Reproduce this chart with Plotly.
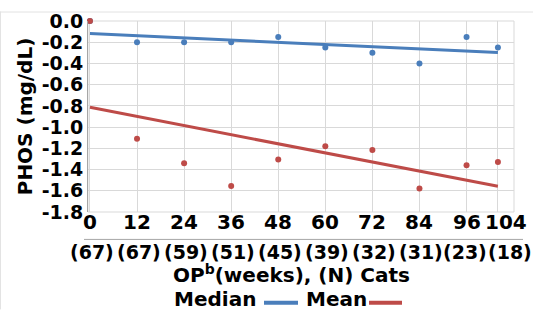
import numpy as np
import plotly.graph_objects as go

weeks = [0, 12, 24, 36, 48, 60, 72, 84, 96, 104]
n_cats = [67, 67, 59, 51, 45, 39, 32, 31, 23, 18]
median_vals = [0.0, -0.20, -0.20, -0.20, -0.15, -0.25, -0.30, -0.40, -0.15, -0.25]
mean_vals = [0.0, -1.11, -1.34, -1.555, -1.305, -1.18, -1.215, -1.58, -1.36, -1.33]
y_ticks = [0.0, -0.2, -0.4, -0.6, -0.8, -1.0, -1.2, -1.4, -1.6, -1.8]

BLUE = "#4a7ebb"
RED = "#be4b48"
FONT = "DejaVu Sans"
FS = 20

x = np.array(weeks, dtype=float)
fit_med = np.polyfit(x, np.array(median_vals), 1)
fit_mean = np.polyfit(x, np.array(mean_vals), 1)
xl = np.array([weeks[0], weeks[-1]], dtype=float)

fig = go.Figure()
fig.add_trace(go.Scatter(x=xl, y=np.polyval(fit_med, xl), mode="lines",
                         line=dict(color=BLUE, width=3), name="Median", showlegend=False,
                         cliponaxis=False))
fig.add_trace(go.Scatter(x=xl, y=np.polyval(fit_mean, xl), mode="lines",
                         line=dict(color=RED, width=3), name="Mean", showlegend=False,
                         cliponaxis=False))
fig.add_trace(go.Scatter(x=weeks, y=median_vals, mode="markers",
                         marker=dict(color=BLUE, size=6), showlegend=False, cliponaxis=False))
fig.add_trace(go.Scatter(x=weeks, y=mean_vals, mode="markers",
                         marker=dict(color=RED, size=6), showlegend=False, cliponaxis=False))

L, R, T, B = 88, 19, 10, 119
W, H = 533, 331
pw, ph = W - L - R, H - T - B

def px_x(p):
    return (p - L) / pw

def px_y(p):
    return (H - B - p) / ph

bold = dict(family=FONT, size=FS, color="black", weight="bold")
bold_n = dict(family=FONT, size=19, color="black", weight="bold")
bold_y = dict(family=FONT, size=19, color="black", weight="bold")

annotations = []
last = len(weeks) - 1
for i, (wk, n) in enumerate(zip(weeks, n_cats)):
    shift_top = 8 if i == last else 0
    if i == last:
        shift_bot = 12
    elif i == last - 1:
        shift_bot = -2
    else:
        shift_bot = 2
    annotations.append(dict(x=wk, y=px_y(223), xref="x", yref="paper", text=str(wk),
                            showarrow=False, xanchor="center", yanchor="middle",
                            xshift=shift_top, font=bold))
    annotations.append(dict(x=wk, y=px_y(254), xref="x", yref="paper", text=f"({n})",
                            showarrow=False, xanchor="center", yanchor="middle",
                            xshift=shift_bot, font=bold_n))
annotations.append(dict(x=px_x(291), y=px_y(278), xref="paper", yref="paper",
                        text="OP<sup>b</sup>(weeks), (N) Cats", showarrow=False,
                        xanchor="center", yanchor="middle", font=bold))
annotations.append(dict(x=px_x(258), y=px_y(304), xref="paper", yref="paper",
                        text="Median", showarrow=False, xanchor="right", yanchor="middle",
                        font=bold))
annotations.append(dict(x=px_x(369), y=px_y(304), xref="paper", yref="paper",
                        text="Mean", showarrow=False, xanchor="right", yanchor="middle",
                        font=bold))

shapes = [
    dict(type="line", xref="paper", yref="paper", x0=px_x(0.5), x1=px_x(0.5), y0=px_y(315), y1=px_y(0),
         line=dict(color="#e3e3e3", width=1), layer="below"),
    dict(type="line", xref="paper", yref="paper", x0=px_x(0), x1=px_x(533), y0=px_y(0.5), y1=px_y(0.5),
         line=dict(color="#e3e3e3", width=1), layer="below"),
    dict(type="rect", xref="paper", yref="paper", x0=0, x1=1, y0=0, y1=1,
         line=dict(color="#d9d9d9", width=1), layer="below"),
    dict(type="line", xref="paper", yref="paper", x0=px_x(84), x1=px_x(523), y0=px_y(241), y1=px_y(241),
         line=dict(color="#a6a6a6", width=1)),
    dict(type="line", xref="paper", yref="paper", x0=px_x(264), x1=px_x(298), y0=px_y(308), y1=px_y(308),
         line=dict(color=BLUE, width=4)),
    dict(type="line", xref="paper", yref="paper", x0=px_x(369), x1=px_x(402), y0=px_y(308), y1=px_y(308),
         line=dict(color=RED, width=4)),
]

fig.update_layout(
    width=W, height=H,
    margin=dict(l=L, r=R, t=T, b=B),
    paper_bgcolor="white", plot_bgcolor="white",
    showlegend=False,
    annotations=annotations,
    shapes=shapes,
    xaxis=dict(range=[-0.5, 108.1], tickmode="array", tickvals=weeks,
               showgrid=True, gridcolor="#d9d9d9", gridwidth=1, zeroline=False, showline=False,
               ticks="", showticklabels=False),
    yaxis=dict(range=[-1.8005, 0.0005], tickmode="array", tickvals=y_ticks,
               ticktext=[f"{v:.1f}" for v in y_ticks], ticklabeloverflow="allow",
               showgrid=True, gridcolor="#d9d9d9", gridwidth=1, zeroline=False,
               showline=True, linecolor="#a6a6a6", linewidth=1, ticks="",
               tickfont=bold_y, ticklabelstandoff=0,
               title=dict(text="PHOS (mg/dL)", standoff=3,
                          font=dict(family=FONT, size=20, color="black", weight="bold"))),
)

fig.write_html("out.html")
